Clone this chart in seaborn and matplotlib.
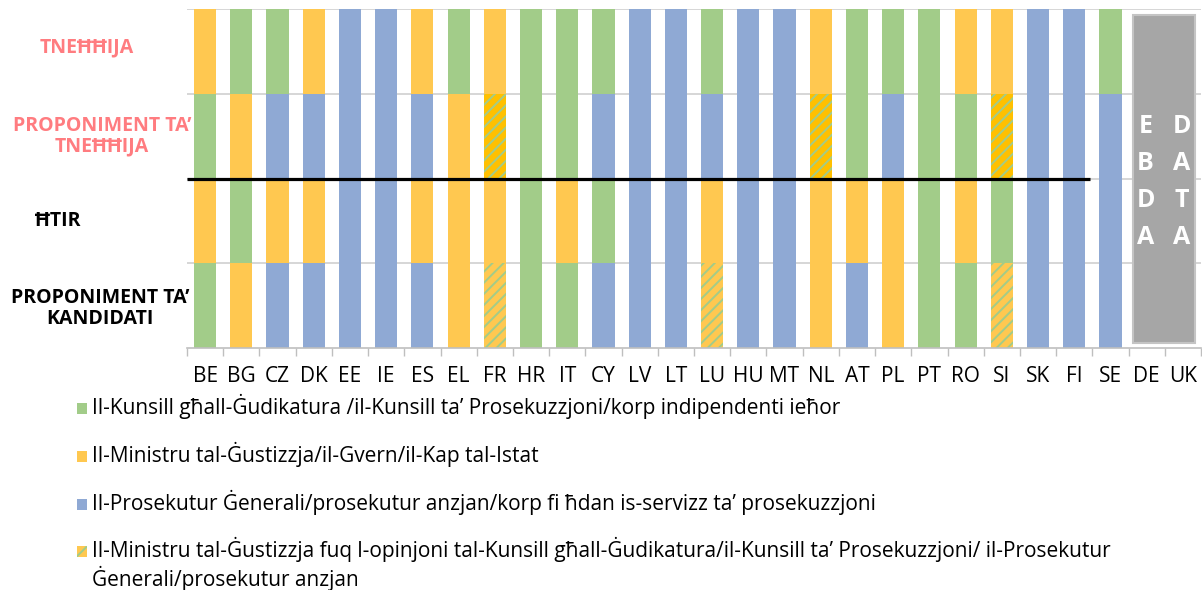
import numpy as np
import pandas as pd
import matplotlib
matplotlib.use("Agg")
import matplotlib.pyplot as plt
import matplotlib.transforms as mtransforms
from matplotlib.patches import Rectangle
import seaborn as sns

# Member states along the x axis
countries = ["BE", "BG", "CZ", "DK", "EE", "IE", "ES", "EL", "FR", "HR", "IT", "CY",
             "LV", "LT", "LU", "HU", "MT", "NL", "AT", "PL", "PT", "RO", "SI", "SK",
             "FI", "SE", "DE", "UK"]

# Body responsible at each stage (G = council, O = minister/government,
# B = prosecutor general, H = minister on the opinion of council/prosecutor)
kandidati = ["G", "O", "B", "B", "B", "B", "B", "O", "H", "G", "G", "B", "B", "B",
             "H", "B", "B", "O", "B", "O", "G", "G", "H", "B", "B", "B", None, None]
htir = ["O", "G", "O", "O", "B", "B", "O", "O", "O", "G", "O", "G", "B", "B",
        "O", "B", "B", "O", "O", "O", "G", "O", "G", "B", "B", "B", None, None]
prop_tnehhija = ["G", "O", "B", "B", "B", "B", "B", "O", "H", "G", "G", "B", "B", "B",
                 "B", "B", "B", "H", "G", "B", "G", "G", "H", "B", "B", "B", None, None]
tnehhija = ["O", "G", "G", "O", "B", "B", "O", "G", "O", "G", "G", "G", "B", "B",
            "G", "B", "B", "O", "G", "G", "G", "O", "O", "B", "B", "G", None, None]

stage_labels = ["PROPONIMENT TA’\nKANDIDATI", "ĦTIR", "PROPONIMENT TA’\nTNEĦĦIJA", "TNEĦĦIJA"]
no_data_text = ["EBDA", "DATA"]

legend_codes = ["G", "O", "B", "H"]
legend_texts = [
    "Il-Kunsill għall-Ġudikatura /il-Kunsill ta’ Prosekuzzjoni/korp indipendenti ieħor",
    "Il-Ministru tal-Ġustizzja/il-Gvern/il-Kap tal-Istat",
    "Il-Prosekutur Ġenerali/prosekutur anzjan/korp fi ħdan is-servizz ta’ prosekuzzjoni",
    "Il-Ministru tal-Ġustizzja fuq l-opinjoni tal-Kunsill għall-Ġudikatura/il-Kunsill ta’ Prosekuzzjoni/ il-Prosekutur\nĠenerali/prosekutur anzjan",
]

GREEN = "#A2CC89"
ORANGE = "#FFC850"
BLUE = "#8FA9D4"
colors = {"G": GREEN, "O": ORANGE, "B": BLUE}
hatch_base = {1: ORANGE, 3: "#FFC000"}
SALMON = "#FF7C80"

sns.set_theme(style="white")
plt.rcParams["font.family"] = ["Open Sans", "DejaVu Sans"]
plt.rcParams["hatch.linewidth"] = 1.4

# long table: one row per (country, stage)
stages = {1: kandidati, 2: htir, 3: prop_tnehhija, 4: tnehhija}
records = []
for level, row in stages.items():
    for c, v in zip(countries, row):
        if v is not None:
            records.append({"country": c, "level": level, "body": v})
df = pd.DataFrame(records)

W, H = 1202, 590
fig = plt.figure(figsize=(W / 100, H / 100), dpi=100)
ax = fig.add_axes([187 / W, (H - 348) / H, (1201 - 187) / W, (348 - 9) / H])

# stacked cells: tallest stage first, lower stages painted on top
for level in [4, 3, 2, 1]:
    for code in ["G", "O", "B", "H"]:
        sub = df[(df["level"] == level) & (df["body"] == code)]
        if sub.empty:
            continue
        if code == "H":
            kw = dict(color=hatch_base[level], edgecolor=GREEN, hatch="///", linewidth=0)
        else:
            kw = dict(color=colors[code], linewidth=0)
        sns.barplot(data=sub, x="country", y="level", order=countries, width=0.61,
                    saturation=1, errorbar=None, ax=ax, zorder=2, **kw)

ax.set_xlim(-0.5, len(countries) - 0.5)
ax.set_ylim(0, 4.005)
ax.set_xlabel("")
ax.set_ylabel("")
ax.set_yticks([1, 2, 3, 4])
ax.yaxis.grid(True, color="#D0D0D0", linewidth=1.2, zorder=0)
ax.set_axisbelow(True)
ax.tick_params(axis="y", left=False, labelleft=False)
ax.set_xticks(np.arange(-0.5, len(countries), 1), minor=True)
ax.tick_params(axis="x", which="major", length=0, pad=13, labelsize=15, labelcolor="black")
ax.tick_params(axis="x", which="minor", bottom=True, length=6, width=1, color="#BFBFBF",
               direction="out")
for s in ["left", "right", "top"]:
    ax.spines[s].set_visible(False)
ax.spines["bottom"].set_color("#BFBFBF")
ax.spines["bottom"].set_linewidth(1.2)

# separator between dismissal and appointment stages
ax.plot([-0.5, countries.index("FI") + 0.43], [2, 2], color="black", lw=2.3, zorder=5,
        solid_capstyle="butt")

# no-data panel for DE and UK
i_de = countries.index("DE")
i_uk = countries.index("UK")
ax.add_patch(Rectangle((i_de - 0.38, 0.06), (i_uk - i_de) + 0.71, 3.87,
                       facecolor="#A6A6A6", edgecolor="#C4C4C4", lw=1.5, zorder=3))
for idx, word in zip([i_de, i_uk], no_data_text):
    ax.text(idx - 0.03, 1.96, "\n".join(word), ha="center", va="center", color="white",
            fontsize=18, fontweight="bold", linespacing=1.62, zorder=4)

# stage labels on the left
trans = mtransforms.blended_transform_factory(fig.transFigure, ax.transData)
label_x = [100, 58, 102, 87]
label_dy = [-0.03, 0.0, 0.0, 0.05]
label_col = ["black", "black", SALMON, SALMON]
for i, (txt, x, dy, col) in enumerate(zip(stage_labels, label_x, label_dy, label_col)):
    ax.text(x / W, i + 0.5 + dy, txt, transform=trans, ha="center", va="center",
            multialignment="center", fontsize=14, fontweight="bold", color=col,
            linespacing=1.05)

# legend
baselines = [414, 462, 510, 557]
for code, text, base in zip(legend_codes, legend_texts, baselines):
    y0 = (H - base) / H
    if code == "H":
        sq = Rectangle((77 / W, y0), 10 / W, 11 / H, transform=fig.transFigure,
                       facecolor=ORANGE, edgecolor=GREEN, hatch="//", lw=0)
    else:
        sq = Rectangle((77 / W, y0), 10 / W, 11 / H, transform=fig.transFigure,
                       facecolor=colors[code], lw=0)
    fig.patches.append(sq)
    lines = text.split("\n")
    for k, line in enumerate(lines):
        fig.text(92 / W, (H - base - 29 * k) / H, line, ha="left", va="baseline",
                 fontsize=15, color="black")

fig.savefig("out.png", dpi=100)
